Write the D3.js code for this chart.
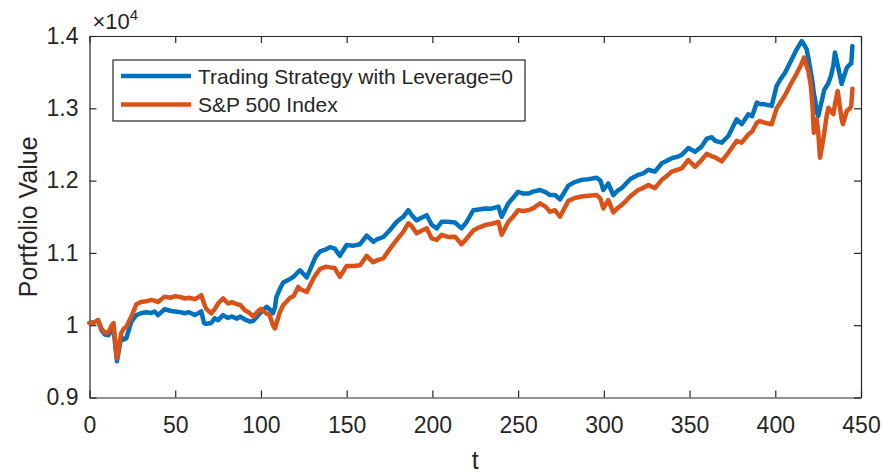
<!DOCTYPE html>
<html lang="en">
<head>
<meta charset="UTF-8">
<title>Portfolio Value</title>
<script src="https://d3js.org/d3.v7.min.js"></script>
<style>
  body { margin: 0; background: #fff; }
  svg text { font-family: "Liberation Sans", Arial, sans-serif; fill: #262626; }
</style>
</head>
<body>
<div id="chart"></div>
<script>
// time steps and portfolio values
const tVals = [0, 3, 5, 7, 9, 11, 13, 14, 16, 18.5, 20, 21.5, 24.4, 27.3, 30, 33, 36, 38, 40, 43.8,
  47, 50, 53, 55.5, 58, 61.4, 63, 65.2, 66.8, 68, 71, 73, 75, 77.9, 80.8, 83, 86, 88, 90.5, 93.6,
  95.6, 98.5, 100, 103.3, 105, 107, 108.2, 109, 111, 113, 117, 119, 121.8, 122.8, 126.7, 130.5, 132, 134.5, 138, 140.3,
  143, 146, 150, 154, 157.8, 161.7, 165.5, 168, 171.4, 175, 179.2, 183, 186, 188, 190.8, 193, 196.7, 199.6, 202.5, 205.4,
  209, 213.2, 217, 220, 223.9, 227, 230.7, 234, 238.5, 240.4, 244.3, 247, 250, 253, 256, 259, 262.8, 266, 268.6, 271.5,
  274.4, 279.3, 283, 287, 291, 295.8, 298, 299.7, 302.6, 305.5, 308, 310.4, 313, 315.3, 320, 323, 326, 329.8, 333.8, 336.5,
  339.6, 343, 345.4, 349.3, 353.2, 357, 360, 363, 365, 368.8, 372.6, 377.5, 380.4, 384.3, 386.5, 389.2, 391, 394, 397.9, 400.8,
  403, 405.7, 409.6, 412.5, 415.4, 416.8, 418.3, 419.3, 420.8, 421.8, 422.5, 423.2, 424.2, 425.1, 426.1, 427.1, 428.5, 430, 431, 432.5,
  433.9, 434.8, 436.4, 438.7, 439.5, 441.7, 443.6, 444.3, 445];

const strategy = [10030, 10040, 10070, 9930, 9870, 9860, 9930, 9950, 9500, 9840, 9800, 9820, 10050, 10140, 10165, 10180, 10170, 10190, 10140, 10220,
  10200, 10190, 10180, 10165, 10180, 10140, 10160, 10190, 10030, 10020, 10030, 10095, 10070, 10140, 10100, 10120, 10090, 10120, 10080, 10050,
  10060, 10140, 10180, 10255, 10220, 10165, 10250, 10390, 10500, 10590, 10640, 10670, 10740, 10760, 10660, 10870, 10950, 11020, 11050, 11080,
  11060, 10960, 11110, 11100, 11120, 11240, 11155, 11190, 11220, 11310, 11430, 11500, 11590, 11520, 11450, 11480, 11520, 11390, 11340, 11430,
  11430, 11420, 11340, 11430, 11590, 11600, 11615, 11610, 11640, 11500, 11685, 11760, 11845, 11820, 11820, 11850, 11870, 11840, 11800, 11800,
  11740, 11930, 11980, 12010, 12020, 12040, 12000, 11870, 11960, 11800, 11860, 11895, 11960, 12020, 12080, 12100, 12150, 12125, 12240, 12270,
  12310, 12330, 12355, 12450, 12400, 12470, 12580, 12600, 12550, 12525, 12617, 12848, 12780, 12918, 12890, 13078, 13060, 13055, 13033, 13310,
  13400, 13492, 13677, 13816, 13930, 13880, 13816, 13700, 13490, 13350, 13200, 13125, 12950, 12894, 13000, 13100, 13250, 13310, 13350, 13450,
  13600, 13772, 13600, 13335, 13400, 13560, 13610, 13620, 13860];

const sp500 = [10030, 10040, 10070, 9950, 9900, 9900, 10000, 10030, 9540, 9890, 9950, 9980, 10120, 10290, 10320, 10330, 10350, 10340, 10320, 10395,
  10380, 10400, 10390, 10370, 10380, 10360, 10380, 10417, 10300, 10230, 10165, 10220, 10300, 10370, 10300, 10320, 10290, 10280, 10210, 10165,
  10120, 10200, 10225, 10160, 10140, 10000, 9955, 10020, 10180, 10280, 10380, 10400, 10530, 10500, 10460, 10640, 10700, 10780, 10810, 10800,
  10790, 10670, 10820, 10820, 10830, 10960, 10870, 10900, 10925, 11050, 11180, 11290, 11410, 11370, 11270, 11300, 11340, 11200, 11180, 11250,
  11220, 11225, 11120, 11200, 11310, 11350, 11385, 11400, 11430, 11250, 11430, 11500, 11590, 11580, 11590, 11620, 11685, 11640, 11570, 11590,
  11500, 11720, 11760, 11780, 11790, 11800, 11750, 11615, 11730, 11560, 11620, 11660, 11720, 11780, 11870, 11900, 11940, 11895, 12010, 12060,
  12125, 12150, 12170, 12285, 12190, 12285, 12370, 12335, 12320, 12265, 12385, 12550, 12525, 12640, 12680, 12800, 12824, 12800, 12780, 13000,
  13080, 13180, 13360, 13480, 13620, 13700, 13580, 13516, 13300, 13000, 12660, 12750, 12848, 12650, 12317, 12450, 12650, 12900, 13008, 12960,
  12918, 13050, 13240, 12850, 12780, 12963, 13000, 13033, 13270];

const seriesNames = ["Trading Strategy with Leverage=0", "S&P 500 Index"];
const seriesColors = ["#0072BD", "#D95319"];
const xTicks = [0, 50, 100, 150, 200, 250, 300, 350, 400, 450];
const yTicks = [9000, 10000, 11000, 12000, 13000, 14000];

const W = 883, H = 473;
const margin = {top: 36, right: 22, bottom: 75.5, left: 89.5};
const width = W - margin.left - margin.right,
      height = H - margin.top - margin.bottom;

const svg = d3.select("#chart").append("svg")
    .attr("width", W)
    .attr("height", H);

const g = svg.append("g")
    .attr("transform", "translate(" + margin.left + "," + margin.top + ")");

const x = d3.scaleLinear().domain([0, 450]).range([0, width]);
const y = d3.scaleLinear().domain([9000, 14000]).range([height, 0]);

// MATLAB-like box with inward ticks on all sides
const tickLen = 7;
g.append("g")
    .attr("transform", "translate(0," + height + ")")
    .call(d3.axisBottom(x).tickValues(xTicks).tickSizeInner(-tickLen).tickSizeOuter(0).tickPadding(19))
    .call(a => a.selectAll("text").style("font-size", "23px"));
g.append("g")
    .call(d3.axisTop(x).tickValues(xTicks).tickSizeInner(-tickLen).tickSizeOuter(0).tickFormat(""));
g.append("g")
    .call(d3.axisLeft(y).tickValues(yTicks).tickSizeInner(-tickLen).tickSizeOuter(0).tickPadding(11)
      .tickFormat(d => d3.format(".1f")(d / 1e4).replace(/\.0$/, "")))
    .call(a => a.selectAll("text").style("font-size", "23px"));
g.append("g")
    .attr("transform", "translate(" + width + ",0)")
    .call(d3.axisRight(y).tickValues(yTicks).tickSizeInner(-tickLen).tickSizeOuter(0).tickFormat(""));

g.selectAll(".domain").attr("stroke", "#262626").attr("stroke-width", 1.2);
g.selectAll(".tick line").attr("stroke", "#262626").attr("stroke-width", 1.2);

// lines
const series = [strategy, sp500];
const line = d3.line()
    .x((d, i) => x(tVals[i]))
    .y(d => y(d));

// draw S&P first? the blue sits on top in the reference start region mixed; draw blue then orange
series.forEach(function(vals, k) {
  g.append("path")
    .datum(vals)
    .attr("fill", "none")
    .attr("stroke", seriesColors[k])
    .attr("stroke-width", 4.5)
    .attr("stroke-linejoin", "round")
    .attr("stroke-linecap", "round")
    .attr("d", line);
});

// exponent label
const expo = svg.append("text")
    .attr("x", margin.left + 3)
    .attr("y", 29)
    .style("font-size", "22px");
expo.append("tspan").text("\u00d710");
expo.append("tspan").attr("dy", -9).style("font-size", "15px").text("4");

// axis labels
svg.append("text")
    .attr("x", margin.left + width / 2)
    .attr("y", 469)
    .attr("text-anchor", "middle")
    .style("font-size", "25px")
    .text("t");

svg.append("text")
    .attr("transform", "translate(37," + (margin.top + height / 2) + ") rotate(-90)")
    .attr("text-anchor", "middle")
    .style("font-size", "25px")
    .text("Portfolio Value");

// legend
const legend = svg.append("g").attr("transform", "translate(113,60)");
legend.append("rect")
    .attr("width", 412).attr("height", 61)
    .attr("fill", "#fff")
    .attr("stroke", "#262626").attr("stroke-width", 1.2);
seriesNames.forEach(function(name, k) {
  const yy = 16 + k * 28.5;
  legend.append("line")
    .attr("x1", 8).attr("x2", 78)
    .attr("y1", yy).attr("y2", yy)
    .attr("stroke", seriesColors[k]).attr("stroke-width", 4.5);
  legend.append("text")
    .attr("x", 85).attr("y", yy + 7.5)
    .style("font-size", "21px")
    .text(name);
});
</script>
</body>
</html>
